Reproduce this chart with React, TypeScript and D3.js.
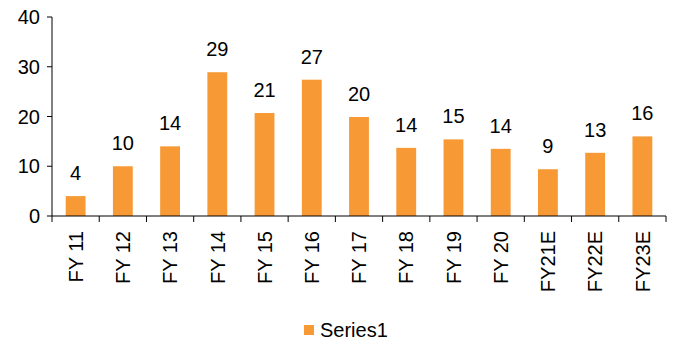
import React from "react";
import * as d3 from "d3";

const categories = ["FY 11", "FY 12", "FY 13", "FY 14", "FY 15", "FY 16", "FY 17", "FY 18", "FY 19", "FY 20", "FY21E", "FY22E", "FY23E"];
const series1 = [4.0, 10.0, 14.0, 28.9, 20.7, 27.4, 19.9, 13.7, 15.4, 13.5, 9.4, 12.7, 16.0];
const yTicks = [0, 10, 20, 30, 40];
const seriesName = "Series1";

const W = 680;
const H = 359;
const left = 52;
const right = 666;
const top = 17;
const bottom = 216;
const color = "#F79935";
const font = "'Liberation Sans', Arial, sans-serif";
const fs = 20;

export default function App() {
  const x = d3.scaleBand<string>().domain(categories).range([left, right]).paddingInner(0.58).paddingOuter(0.29);
  const xb = d3.scaleBand<string>().domain(categories).range([left, right]);
  const y = d3.scaleLinear().domain([0, 40]).range([bottom, top]);
  const fmt = d3.format(".0f");

  return (
    <svg width={W} height={H} style={{ position: "absolute", left: 0, top: 0, background: "#fff" }} fontFamily={font}>
      {categories.map((c, i) => (
        <rect key={c} x={x(c)} y={y(series1[i])} width={x.bandwidth()} height={y(0) - y(series1[i])} fill={color} />
      ))}
      {categories.map((c, i) => (
        <text key={"l" + c} x={(x(c) as number) + x.bandwidth() / 2} y={y(series1[i]) - 16} textAnchor="middle" fontSize={fs} fill="#000">
          {fmt(series1[i])}
        </text>
      ))}
      <line x1={left} x2={left} y1={top} y2={bottom} stroke="#000" strokeWidth={1} />
      {yTicks.map((t) => (
        <g key={"t" + t}>
          <line x1={left - 5} x2={left} y1={y(t)} y2={y(t)} stroke="#000" />
          <text x={left - 12} y={y(t)} dy="0.36em" textAnchor="end" fontSize={fs} fill="#000">
            {t}
          </text>
        </g>
      ))}
      <line x1={left} x2={right} y1={bottom} y2={bottom} stroke="#000" />
      {[...categories.map((c) => xb(c) as number), right].map((px, i) => (
        <line key={"xt" + i} x1={px} x2={px} y1={bottom} y2={bottom + 6} stroke="#000" />
      ))}
      {categories.map((c) => {
        const cx = (xb(c) as number) + xb.bandwidth() / 2;
        return (
          <text key={"c" + c} transform={`translate(${cx},${bottom + 15}) rotate(-90)`} textAnchor="end" dy="0.36em" fontSize={fs} fill="#000">
            {c}
          </text>
        );
      })}
      <rect x={304} y={325} width={10} height={10} fill={color} />
      <text x={320} y={337} fontSize={fs} fill="#000">
        {seriesName}
      </text>
    </svg>
  );
}
